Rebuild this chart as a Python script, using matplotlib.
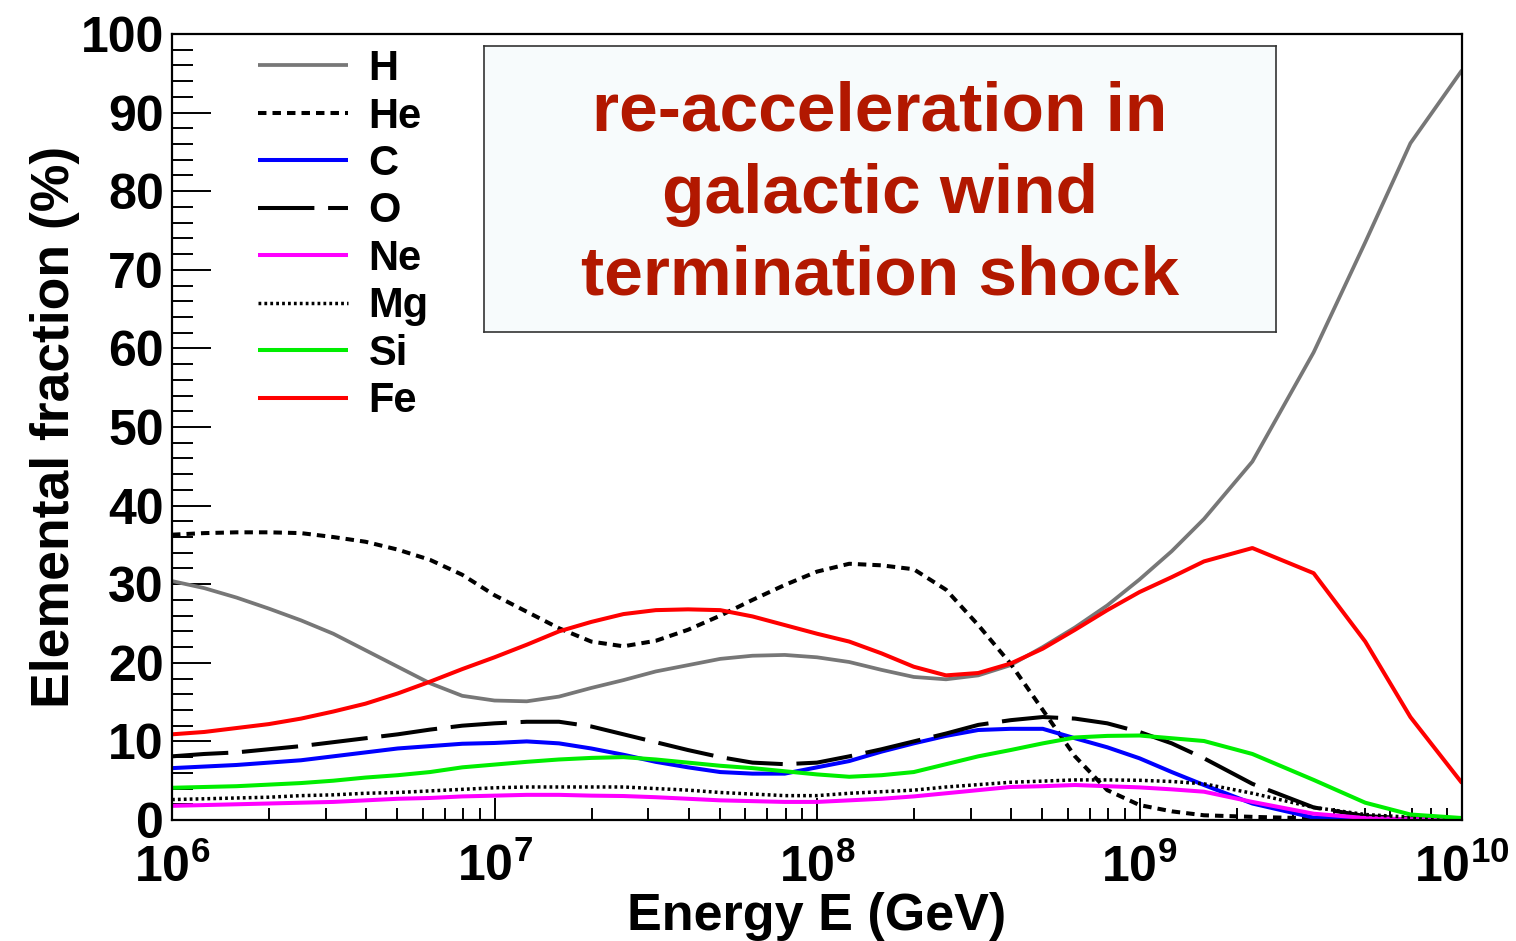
import numpy as np
import matplotlib
matplotlib.use("Agg")
import matplotlib.pyplot as plt
from matplotlib.ticker import FixedLocator, LogLocator, NullFormatter, FixedFormatter

plt.rcParams['font.family'] = ['Liberation Sans', 'DejaVu Sans']
plt.rcParams['font.weight'] = 'bold'
plt.rcParams['mathtext.fontset'] = 'custom'
plt.rcParams['mathtext.rm'] = 'Liberation Sans:bold'
plt.rcParams['mathtext.bf'] = 'Liberation Sans:bold'

# energy grid, log10(E / GeV)
log_e = [6.0, 6.1, 6.2, 6.3, 6.4, 6.5, 6.6, 6.7, 6.8, 6.9,
         7.0, 7.1, 7.2, 7.3, 7.4, 7.5, 7.6, 7.7, 7.8, 7.9,
         8.0, 8.1, 8.2, 8.3, 8.4, 8.5, 8.6, 8.7, 8.8, 8.9,
         9.0, 9.1, 9.2, 9.35, 9.54, 9.7, 9.84, 10.0]

# elemental fractions in %
frac_h = [30.4, 29.5, 28.3, 26.9, 25.4, 23.7, 21.6, 19.5, 17.4, 15.8,
          15.2, 15.1, 15.7, 16.8, 17.8, 18.9, 19.7, 20.5, 20.9, 21.0,
          20.7, 20.1, 19.1, 18.2, 17.9, 18.4, 19.7, 22.0, 24.5, 27.3,
          30.6, 34.2, 38.3, 45.6, 59.5, 73.5, 86.1, 95.4]
frac_he = [36.3, 36.5, 36.6, 36.6, 36.5, 36.0, 35.4, 34.4, 33.1, 31.2,
           28.6, 26.5, 24.4, 22.7, 22.1, 22.8, 24.2, 26.0, 28.0, 29.9,
           31.6, 32.6, 32.4, 31.9, 29.3, 24.8, 19.9, 14.0, 8.1, 3.8,
           1.9, 1.1, 0.6, 0.4, 0.2, 0.1, 0.05, 0.0]
frac_c = [6.6, 6.8, 7.0, 7.3, 7.6, 8.1, 8.6, 9.1, 9.4, 9.7,
          9.8, 10.0, 9.75, 9.1, 8.3, 7.4, 6.7, 6.1, 5.9, 5.9,
          6.7, 7.5, 8.7, 9.75, 10.7, 11.45, 11.6, 11.6, 10.4, 9.25,
          7.85, 6.1, 4.45, 2.1, 0.3, 0.1, 0.05, 0.0]
frac_o = [8.1, 8.4, 8.6, 9.0, 9.4, 9.9, 10.4, 10.9, 11.5, 12.0,
          12.3, 12.5, 12.5, 11.9, 10.9, 9.9, 8.9, 8.0, 7.3, 7.1,
          7.3, 8.1, 9.0, 10.0, 11.0, 12.1, 12.7, 13.1, 12.9, 12.3,
          11.2, 9.75, 7.85, 4.6, 1.6, 0.5, 0.2, 0.1]
frac_ne = [1.8, 1.9, 2.0, 2.1, 2.2, 2.3, 2.5, 2.7, 2.8, 3.0,
           3.1, 3.2, 3.2, 3.1, 3.05, 2.9, 2.7, 2.5, 2.4, 2.3,
           2.3, 2.5, 2.7, 3.0, 3.4, 3.8, 4.2, 4.3, 4.45, 4.3,
           4.15, 3.9, 3.6, 2.3, 0.8, 0.25, 0.1, 0.1]
frac_mg = [2.6, 2.7, 2.8, 2.9, 3.1, 3.2, 3.4, 3.5, 3.7, 3.9,
           4.1, 4.2, 4.2, 4.2, 4.2, 4.0, 3.8, 3.5, 3.3, 3.1,
           3.1, 3.4, 3.6, 3.8, 4.2, 4.5, 4.8, 4.95, 5.1, 5.1,
           5.05, 4.9, 4.6, 3.4, 1.6, 0.7, 0.35, 0.1]
frac_si = [4.1, 4.2, 4.3, 4.5, 4.7, 5.0, 5.4, 5.7, 6.1, 6.7,
           7.05, 7.4, 7.7, 7.9, 8.0, 7.7, 7.3, 6.9, 6.6, 6.2,
           5.8, 5.5, 5.7, 6.1, 7.1, 8.1, 8.9, 9.75, 10.5, 10.7,
           10.75, 10.4, 10.05, 8.4, 5.1, 2.2, 0.7, 0.25]
frac_fe = [10.9, 11.2, 11.7, 12.2, 12.9, 13.8, 14.8, 16.1, 17.6, 19.2,
           20.7, 22.3, 24.0, 25.2, 26.2, 26.7, 26.8, 26.7, 25.9, 24.8,
           23.7, 22.7, 21.2, 19.5, 18.4, 18.7, 19.9, 21.8, 24.2, 26.7,
           29.0, 30.9, 32.9, 34.6, 31.4, 22.7, 13.1, 4.7]

labels = ['H', 'He', 'C', 'O', 'Ne', 'Mg', 'Si', 'Fe']
series = [frac_h, frac_he, frac_c, frac_o, frac_ne, frac_mg, frac_si, frac_fe]
colors = ['#777777', 'black', '#0000ff', 'black', '#ff00ff', 'black', '#00ee00', '#ff0000']
styles = ['-', (0, (2.1, 1.5)), '-', (0, (14, 3.4)), '-', (0, (0.8, 0.9)), '-', '-']
widths = [2.7, 2.9, 2.9, 2.9, 2.9, 2.5, 2.9, 2.9]

energy = 10.0 ** np.array(log_e)

fig = plt.figure(figsize=(15.16, 9.41), dpi=100)
ax = fig.add_axes([172 / 1516, 1 - 820 / 941, 1290 / 1516, 786 / 941])

for lab, vals, c, ls, lw in zip(labels, series, colors, styles, widths):
    ax.plot(energy, vals, color=c, linestyle=ls, linewidth=lw, label=lab,
            solid_capstyle='butt', dash_capstyle='butt')

ax.set_xscale('log')
ax.set_xlim(1e6, 1e10)
ax.set_ylim(0, 100)

# axis frame and ticks, only bottom and left
for s in ax.spines.values():
    s.set_linewidth(1.6)
ax.tick_params(which='both', direction='in', top=False, right=False, width=1.4)
ax.tick_params(axis='y', which='major', length=28, pad=6, labelsize=36)
ax.tick_params(axis='y', which='minor', length=15)
ax.tick_params(axis='x', which='major', length=16, pad=17, labelsize=36)
ax.tick_params(axis='x', which='minor', length=9)

ax.yaxis.set_major_locator(FixedLocator(np.arange(0, 101, 10)))
ax.yaxis.set_minor_locator(FixedLocator(np.arange(0, 101, 2)))
xt = [1e6, 1e7, 1e8, 1e9, 1e10]
ax.xaxis.set_major_locator(FixedLocator(xt))
ax.xaxis.set_major_formatter(FixedFormatter([r'$\mathbf{10^{%d}}$' % k for k in range(6, 11)]))
ax.xaxis.set_minor_locator(LogLocator(base=10, subs=np.arange(2, 10), numticks=20))
ax.xaxis.set_minor_formatter(NullFormatter())

ax.set_ylabel('Elemental fraction (%)', fontsize=38.5, fontweight='bold', labelpad=0)
ax.set_xlabel('Energy E (GeV)', fontsize=37.5, fontweight='bold', labelpad=0)

leg = ax.legend(loc='upper left', bbox_to_anchor=(258 / 1516, 1 - 49 / 941),
                bbox_transform=fig.transFigure, frameon=False, fontsize=30,
                handlelength=2.15, handletextpad=0.5, labelspacing=0.18,
                borderpad=0, borderaxespad=0)
for t in leg.get_texts():
    t.set_fontweight('bold')

# annotation box
box = fig.add_axes([484 / 1516, 1 - 332 / 941, 792 / 1516, 286 / 941])
box.set_xticks([])
box.set_yticks([])
box.set_facecolor('#f7fbfc')
for s in box.spines.values():
    s.set_linewidth(1.2)
    s.set_color('#333333')
box.text(0.5, 0.48, 're-acceleration in\ngalactic wind\ntermination shock',
         ha='center', va='center', fontsize=50, fontweight='bold',
         color='#b21800', linespacing=1.36, transform=box.transAxes)

fig.savefig('out.png', dpi=100)
